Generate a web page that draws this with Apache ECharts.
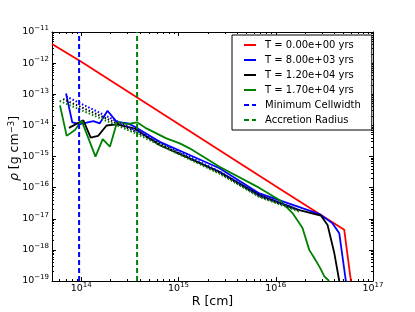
<!DOCTYPE html>
<html>
<head>
<meta charset="utf-8">
<script src="https://cdn.jsdelivr.net/npm/echarts@6/dist/echarts.min.js"></script>
<style>html,body{margin:0;padding:0;background:#fff;}#c{width:415px;height:312px;}</style>
</head>
<body>
<div id="c"></div>
<script>
// ---- data ----
const xTicks = [1e14, 1e15, 1e16, 1e17];
const yTicks = [1e-19, 1e-18, 1e-17, 1e-16, 1e-15, 1e-14, 1e-13, 1e-12, 1e-11];

const redR   = [5e13, 1e14, 1e15, 1e16, 5.06e16, 5.93e16];
const redRho = [4.12e-12, 1.1e-12, 1.1e-14, 1.1e-16, 4.4e-18, 1e-19];

const blueR   = [6.97e13, 8.08e13, 9.68e13, 1.33e14, 1.55e14, 1.86e14, 2.31e14, 3.03e14, 3.55e14, 6.41e14, 2.64e15, 6.79e15, 1.75e16, 2.81e16, 3.84e16, 4.5e16, 5.26e16];
const blueRho = [1.06e-13, 1.25e-14, 1.10e-14, 1.37e-14, 1.16e-14, 2.94e-14, 1.30e-14, 1.16e-14, 9.0e-15, 2.98e-15, 4.2e-16, 6.5e-17, 2.37e-17, 1.41e-17, 7.1e-18, 3.4e-18, 1e-19];

const blackR   = [7.47e13, 1.05e14, 1.25e14, 1.49e14, 1.82e14, 2.31e14, 3.55e14, 6.41e14, 2.64e15, 6.79e15, 1.75e16, 2.92e16, 3.41e16, 4.0e16, 4.5e16];
const blackRho = [8.3e-15, 1.46e-14, 4.07e-15, 4.6e-15, 9.9e-15, 1.08e-14, 7.9e-15, 2.3e-15, 3.2e-16, 5.75e-17, 1.9e-17, 1.25e-17, 6.3e-18, 7.9e-19, 1e-19];

const greenR   = [6.04e13, 7.08e13, 8.61e13, 1.01e14, 1.40e14, 1.66e14, 1.97e14, 2.34e14, 2.96e14, 3.75e14, 4.68e14, 7.50e14, 1.03e15, 1.30e15, 2.64e15, 6.79e15, 1.09e16, 1.48e16, 1.88e16, 2.21e16, 2.49e16, 2.81e16, 3.16e16, 3.55e16];
const greenRho = [4.4e-14, 4.6e-15, 7.1e-15, 1.40e-14, 9.9e-16, 3.64e-15, 2.06e-15, 1.30e-14, 1.10e-14, 1.25e-14, 8.0e-15, 3.83e-15, 2.65e-15, 1.83e-15, 4.7e-16, 9.8e-17, 4.0e-17, 1.55e-17, 5.1e-18, 1.0e-18, 5.5e-19, 2.9e-19, 1.4e-19, 1e-19];

const blueDotR   = [7.0e13, 3.5e14, 2.64e15, 6.79e15, 1.75e16];
const blueDotRho = [8.5e-14, 7.3e-15, 3.3e-16, 5.6e-17, 1.9e-17];
const blackDotR   = [6.5e13, 3.5e14, 2.64e15, 6.79e15, 1.75e16];
const blackDotRho = [7.0e-14, 6.6e-15, 3.0e-16, 5.2e-17, 1.8e-17];
const greenDotR   = [6.0e13, 3.5e14, 2.64e15, 6.79e15, 1.75e16];
const greenDotRho = [6.1e-14, 5.8e-15, 2.8e-16, 5.0e-17, 1.7e-17];

const cellwidthR = 9.5e13;
const accretionR = 3.75e14;
const yMin = 1e-19, yMax = 1e-11;
const xMin = 5e13, xMax = 1e17;

const legendNames = ['T = 0.00e+00 yrs', 'T = 8.00e+03 yrs', 'T = 1.20e+04 yrs', 'T = 1.70e+04 yrs', 'Minimum Cellwidth', 'Accretion Radius'];

// ---- helpers ----
function zip(a, b) { return a.map((v, i) => [v, b[i]]); }
function minorTicks(lo, hi) {
  const out = [];
  for (let e = Math.floor(Math.log10(lo)); e <= Math.ceil(Math.log10(hi)); e++) {
    for (let m = 2; m <= 9; m++) {
      const v = m * Math.pow(10, e);
      if (v >= lo * 0.999 && v <= hi * 1.001) out.push(v);
    }
  }
  return out;
}
function sci(v) {
  const e = Math.round(Math.log10(v));
  return '{b|10}{s|' + (e < 0 ? '\u2212' : '') + Math.abs(e) + '}';
}
const FONT = 'DejaVu Sans';
const rich = {
  b: { fontSize: 9.5, fontFamily: FONT, color: '#000', lineHeight: 14 },
  s: { fontSize: 7, fontFamily: FONT, color: '#000', lineHeight: 6, verticalAlign: 'top' }
};

const GRID = { left: 52, top: 32, width: 321, height: 249, outerBoundsMode: 'none', containLabel: false };
const axLine = { show: true, lineStyle: { color: '#000', width: 1 } };

function majorX(pos, labels) {
  return {
    type: 'log', logBase: 10, min: xMin, max: xMax, gridIndex: 0, position: pos,
    axisLine: axLine, splitLine: { show: false },
    axisTick: { show: true, inside: true, length: 4, customValues: xTicks, lineStyle: { color: '#000' } },
    axisLabel: labels ? { show: true, customValues: xTicks, margin: 1, formatter: sci, rich: rich } : { show: false },
    name: labels ? 'R [cm]' : '', nameLocation: 'middle', nameGap: 14, nameMoveOverlap: false,
    nameTextStyle: { fontFamily: FONT, fontSize: 12.5, color: '#000' }
  };
}
function minorX(pos) {
  return {
    type: 'log', logBase: 10, min: xMin, max: xMax, gridIndex: 1, position: pos,
    axisLine: { show: false }, splitLine: { show: false }, axisLabel: { show: false },
    axisTick: { show: true, inside: true, length: 2, customValues: minorTicks(xMin, xMax), lineStyle: { color: '#000' } }
  };
}
function majorY(pos, labels) {
  return {
    type: 'log', logBase: 10, min: yMin, max: yMax, gridIndex: 0, position: pos,
    axisLine: axLine, splitLine: { show: false },
    axisTick: { show: true, inside: true, length: 4, customValues: yTicks, lineStyle: { color: '#000' } },
    axisLabel: labels ? { show: true, customValues: yTicks, margin: 3, formatter: sci, rich: rich } : { show: false },
    name: labels ? '{i|\u03c1} [g cm{s|\u22123}]' : '', nameLocation: 'middle', nameGap: 29, nameMoveOverlap: false,
    nameTextStyle: {
      fontFamily: FONT, fontSize: 12.5, color: '#000', padding: [0, 0, 0, 16],
      rich: {
        i: { fontFamily: FONT, fontStyle: 'italic', fontSize: 12.5, lineHeight: 16 },
        s: { fontFamily: FONT, fontSize: 8.5, lineHeight: 8, verticalAlign: 'top' }
      }
    }
  };
}
function minorY(pos) {
  return {
    type: 'log', logBase: 10, min: yMin, max: yMax, gridIndex: 1, position: pos,
    axisLine: { show: false }, splitLine: { show: false }, axisLabel: { show: false },
    axisTick: { show: true, inside: true, length: 2, customValues: minorTicks(yMin, yMax), lineStyle: { color: '#000' } }
  };
}

function lineSeries(name, r, rho, color, extra) {
  return Object.assign({
    name: name, type: 'line', xAxisIndex: 0, yAxisIndex: 0,
    data: zip(r, rho), symbol: 'none', showSymbol: false, animation: false,
    lineStyle: { color: color, width: 1.8 }, itemStyle: { color: color }, z: 3
  }, extra || {});
}

const option = {
  animation: false,
  backgroundColor: '#fff',
  grid: [GRID, GRID],
  xAxis: [majorX('bottom', true), majorX('top', false), minorX('bottom'), minorX('top')],
  yAxis: [majorY('left', true), majorY('right', false), minorY('left'), minorY('right')],
  legend: {
    data: legendNames,
    orient: 'vertical', left: 232, top: 35,
    itemWidth: 12, itemHeight: 10, itemGap: 5,
    padding: [5, 11, 5, 11],
    backgroundColor: '#fff', borderColor: '#000', borderWidth: 1, borderRadius: 0,
    itemStyle: { opacity: 0, borderWidth: 0 },
    textStyle: { fontFamily: FONT, fontSize: 10, color: '#000', padding: [0, 0, 0, 4] },
    z: 10
  },
  series: [
    lineSeries(legendNames[0], redR, redRho, '#ff0000'),
    lineSeries(legendNames[1], blueR, blueRho, '#0000ff'),
    lineSeries(legendNames[2], blackR, blackRho, '#000000'),
    lineSeries(legendNames[3], greenR, greenRho, '#008000'),
    lineSeries('blue dotted', blueDotR, blueDotRho, '#0000ff', { lineStyle: { color: '#0000ff', width: 2, type: [1.5, 2] } }),
    lineSeries('black dotted', blackDotR, blackDotRho, '#000000', { lineStyle: { color: '#000000', width: 2, type: [1.5, 2] } }),
    lineSeries('green dotted', greenDotR, greenDotRho, '#008000', { lineStyle: { color: '#008000', width: 2, type: [1.5, 2] } }),
    lineSeries(legendNames[4], [cellwidthR, cellwidthR], [yMin, yMax], '#0000ff', { lineStyle: { color: '#0000ff', width: 2, type: [5, 3] } }),
    lineSeries(legendNames[5], [accretionR, accretionR], [yMin, yMax], '#008000', { lineStyle: { color: '#008000', width: 2, type: [5, 3] } })
  ]
};

const chart = echarts.init(document.getElementById('c'), null, { renderer: 'canvas' });
chart.setOption(option);
</script>
</body>
</html>
